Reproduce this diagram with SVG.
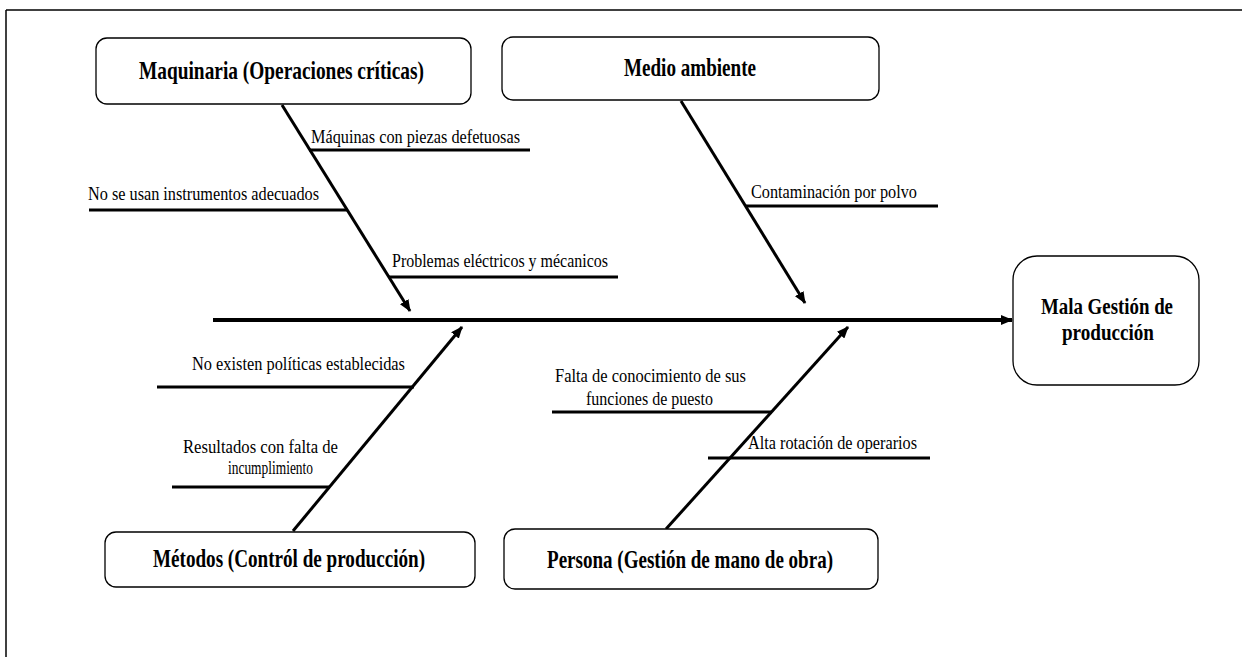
<svg xmlns="http://www.w3.org/2000/svg" width="1242" height="657" viewBox="0 0 1242 657">
<style>
.box{fill:#fff;stroke:#000;stroke-width:1.3}
.bt{font-family:'Liberation Serif','Times New Roman','DejaVu Serif',serif;font-weight:bold;font-size:25px;fill:#000}
.bm{font-size:23px}
.lt{font-family:'Liberation Serif','Times New Roman','DejaVu Serif',serif;font-size:19px;fill:#000}
.bone{stroke:#000;stroke-width:3;fill:none}
.rib{stroke:#000;stroke-width:3;fill:none}
.spine{stroke:#000;stroke-width:4;fill:none}
</style>
<defs>
<marker id="ah" viewBox="0 0 12 10" refX="11" refY="5" markerWidth="12" markerHeight="10" markerUnits="userSpaceOnUse" orient="auto">
<path d="M0,0 L12,5 L0,10 z" fill="#000"/>
</marker>
</defs>
<rect width="1242" height="657" fill="#fff"/>
<g id="frame">
<line x1="6" y1="10" x2="1242" y2="10" stroke="#000" stroke-width="1.5"/>
<line x1="6" y1="10" x2="6" y2="657" stroke="#000" stroke-width="1.5"/>
</g>
<g id="connectors">
<line class="spine" x1="213" y1="320" x2="1012" y2="320" marker-end="url(#ah)"/>
<line class="bone" x1="282" y1="105" x2="410" y2="311" marker-end="url(#ah)"/>
<line class="bone" x1="681" y1="101" x2="805" y2="303" marker-end="url(#ah)"/>
<line class="bone" x1="293" y1="531" x2="462" y2="327" marker-end="url(#ah)"/>
<line class="bone" x1="666" y1="529" x2="848" y2="327" marker-end="url(#ah)"/>
<line class="rib" x1="309" y1="150" x2="530" y2="150"/>
<line class="rib" x1="89" y1="210" x2="347" y2="210"/>
<line class="rib" x1="389" y1="277" x2="618" y2="277"/>
<line class="rib" x1="746" y1="206" x2="938" y2="206"/>
<line class="rib" x1="157" y1="387" x2="414" y2="387"/>
<line class="rib" x1="172" y1="487" x2="330" y2="487"/>
<line class="rib" x1="552" y1="412" x2="772" y2="412"/>
<line class="rib" x1="708" y1="458" x2="930" y2="458"/>
</g>
<g id="maquinaria">
<rect class="box" x="96" y="38" width="375" height="66" rx="11"/>
<text class="bt" x="139" y="79" textLength="285" lengthAdjust="spacingAndGlyphs">Maquinaria (Operaciones críticas)</text>
</g>
<g id="medio-ambiente">
<rect class="box" x="502" y="37" width="377" height="63" rx="11"/>
<text class="bt" x="624" y="76" textLength="132" lengthAdjust="spacingAndGlyphs">Medio ambiente</text>
</g>
<g id="mala-gestion">
<rect class="box" x="1013" y="256" width="186" height="129" rx="24"/>
<text class="bt bm" x="1041" y="314" textLength="132" lengthAdjust="spacingAndGlyphs">Mala Gestión de</text>
<text class="bt bm" x="1062" y="340" textLength="92" lengthAdjust="spacingAndGlyphs">producción</text>
</g>
<g id="metodos">
<rect class="box" x="105" y="532" width="370" height="55" rx="11"/>
<text class="bt" x="153" y="567" textLength="272" lengthAdjust="spacingAndGlyphs">Métodos (Contról de producción)</text>
</g>
<g id="persona">
<rect class="box" x="504" y="529" width="374" height="60" rx="11"/>
<text class="bt" x="547" y="568" textLength="286" lengthAdjust="spacingAndGlyphs">Persona (Gestión de mano de obra)</text>
</g>
<g id="labels">
<text class="lt" x="311" y="143" textLength="209" lengthAdjust="spacingAndGlyphs">Máquinas con piezas defetuosas</text>
<text class="lt" x="88" y="200" textLength="231" lengthAdjust="spacingAndGlyphs">No se usan instrumentos adecuados</text>
<text class="lt" x="392" y="267" textLength="216" lengthAdjust="spacingAndGlyphs">Problemas eléctricos y mécanicos</text>
<text class="lt" x="751" y="198" textLength="166" lengthAdjust="spacingAndGlyphs">Contaminación por polvo</text>
<text class="lt" x="192" y="370" textLength="213" lengthAdjust="spacingAndGlyphs">No existen políticas establecidas</text>
<text class="lt" x="183" y="453" textLength="155" lengthAdjust="spacingAndGlyphs">Resultados con falta de</text>
<text class="lt" x="228" y="474" textLength="85" lengthAdjust="spacingAndGlyphs">incumplimiento</text>
<text class="lt" x="555" y="382" textLength="191" lengthAdjust="spacingAndGlyphs">Falta de conocimiento de sus</text>
<text class="lt" x="586" y="405" textLength="127" lengthAdjust="spacingAndGlyphs">funciones de puesto</text>
<text class="lt" x="748" y="449" textLength="169" lengthAdjust="spacingAndGlyphs">Alta rotación de operarios</text>
</g>
</svg>
